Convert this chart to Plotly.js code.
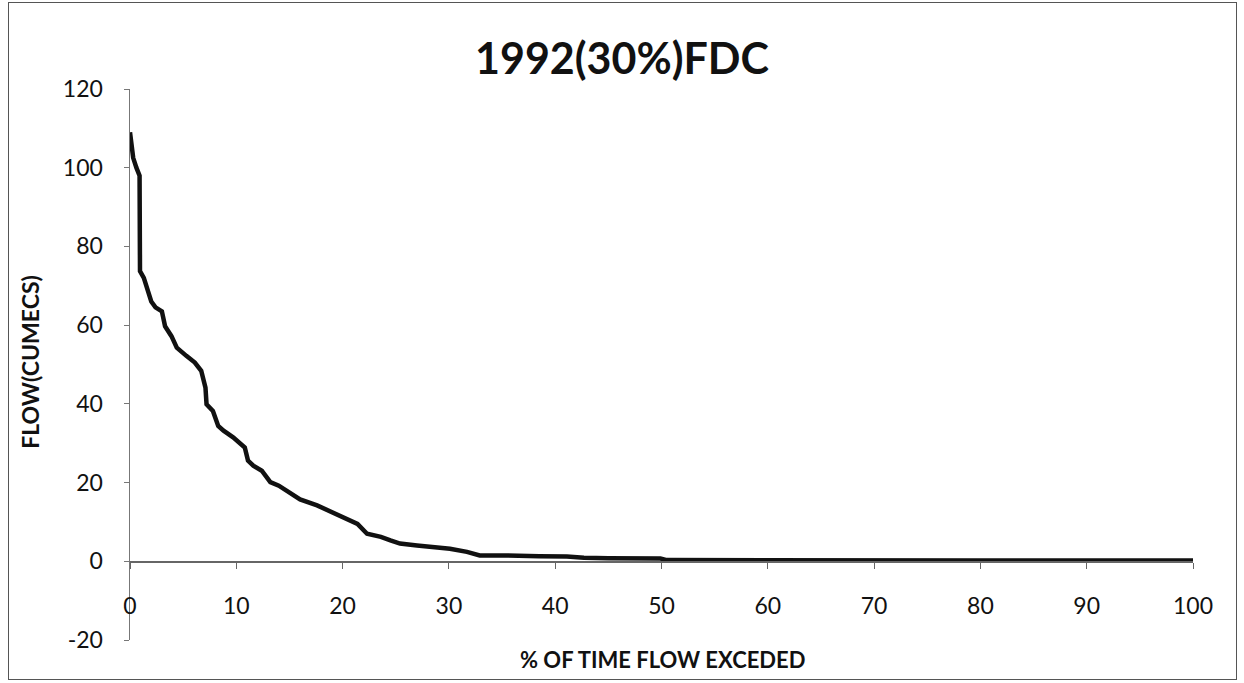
<!DOCTYPE html>
<html>
<head>
<meta charset="utf-8">
<script src="https://cdn.plot.ly/plotly-3.0.1.min.js"></script>
<style>
  body { margin: 0; background: #fff; }
  #wrap { position: relative; width: 1244px; height: 683px; }
  #chart { position: absolute; left: 0; top: 0; width: 1244px; height: 683px; }
  #frame { position: absolute; left: 8px; top: 2px; width: 1227px; height: 676px; border: 1.5px solid #555; pointer-events: none; }
</style>
</head>
<body>
<div id="wrap"><div id="chart"></div><div id="frame"></div></div>
<script>
const titleText = "1992(30%)FDC";
const xTitle = "% OF TIME FLOW EXCEDED";
const yTitle = "FLOW(CUMECS)";
const xTickVals = [0, 10, 20, 30, 40, 50, 60, 70, 80, 90, 100];
const yTickVals = [-20, 0, 20, 40, 60, 80, 100, 120];

const pctExceeded = [0, 0.17, 0.3, 0.6, 0.9, 0.94, 1.3, 2.0, 2.4, 3.0, 3.3, 3.9, 4.4, 5.3, 6.1, 6.7, 7.1, 7.2, 7.8, 8.3, 8.8, 9.7, 10.8, 11.1, 11.6, 12.4, 13.2, 14.0, 15.1, 16.0, 17.6, 18.9, 20.1, 21.4, 22.3, 23.6, 24.5, 25.4, 27.0, 28.5, 30.1, 31.7, 32.9, 35.0, 36.4, 38.5, 41.1, 42.7, 45.0, 47.5, 49.9, 50.5, 60, 70, 80, 90, 100];
const flow = [109, 106, 102.5, 100, 98, 73.7, 72, 66, 64.5, 63.5, 59.7, 57.2, 54.3, 52.2, 50.5, 48.4, 44.1, 39.9, 38.2, 34.4, 33.2, 31.5, 28.9, 25.6, 24.3, 23.0, 20.1, 19.2, 17.1, 15.7, 14.2, 12.5, 11.2, 9.5, 7.0, 6.2, 5.3, 4.5, 4.0, 3.6, 3.2, 2.4, 1.5, 1.5, 1.5, 1.3, 1.2, 0.9, 0.8, 0.8, 0.7, 0.3, 0.2, 0.2, 0.2, 0.2, 0.2];

const yMin = -20, yMax = 120;

const trace = {
  x: pctExceeded, y: flow, type: 'scatter', mode: 'lines',
  line: { color: '#111', width: 4.5 }, hoverinfo: 'skip'
};

const fam = 'Lato, "Open Sans", sans-serif';
const tickFont = { family: fam, size: 23, color: '#111' };

const layout = {
  width: 1244, height: 683,
  margin: { l: 130, r: 51, t: 89, b: 43 },
  paper_bgcolor: '#fff', plot_bgcolor: '#fff',
  showlegend: false,
  title: { text: '<b>' + titleText + '</b>', x: 0.5, xanchor: 'center', y: 0.914, yanchor: 'middle',
           font: { family: fam, size: 43, color: '#111' } },
  xaxis: {
    range: [0, 100], tickvals: xTickVals, ticktext: xTickVals.map(String),
    anchor: 'free', position: (0 - yMin) / (yMax - yMin),
    showline: true, linecolor: '#666', linewidth: 1.5,
    ticks: 'outside', ticklen: 6, tickcolor: '#666',
    ticklabelstandoff: 18,
    showgrid: false, zeroline: false, tickfont: tickFont
  },
  yaxis: {
    range: [yMin, yMax], tickvals: yTickVals, ticktext: yTickVals.map(String),
    showline: true, linecolor: '#777', linewidth: 1.5,
    ticks: 'outside', ticklen: 5, tickcolor: '#777',
    ticklabelstandoff: 16,
    showgrid: false, zeroline: false, tickfont: tickFont
  },
  annotations: [
    { text: '<b>' + xTitle + '</b>', xref: 'paper', yref: 'paper', x: 0.501, y: -0.036, xanchor: 'center', yanchor: 'middle',
      showarrow: false, font: { family: fam, size: 22, color: '#111' } },
    { text: '<b>' + yTitle + '</b>', xref: 'paper', yref: 'paper', x: -0.094, y: 0.505, xanchor: 'center', yanchor: 'middle',
      textangle: -90, showarrow: false, font: { family: fam, size: 23, color: '#111' } }
  ]
};

Plotly.newPlot('chart', [trace], layout, { displayModeBar: false, staticPlot: true });
</script>
</body>
</html>
